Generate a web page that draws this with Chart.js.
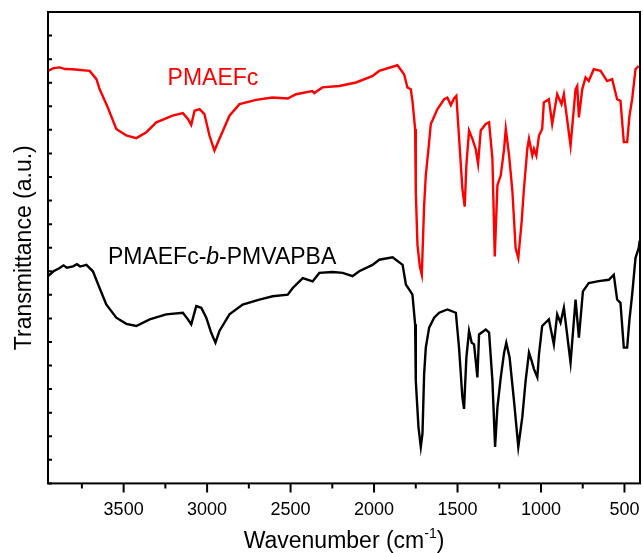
<!DOCTYPE html>
<html>
<head>
<meta charset="utf-8">
<script src="https://cdn.jsdelivr.net/npm/chart.js@4/dist/chart.umd.min.js"></script>
<style>
  html, body { margin: 0; padding: 0; background: #fff; }
  #wrap { width: 643px; height: 553px; }
</style>
</head>
<body>
<div id="wrap"><canvas id="c" width="643" height="553"></canvas></div>
<script>
// ---- Data ----
const redWavenumber = [3953,3920,3883,3850,3805,3760,3703,3663,3644,3596,3544,3484,3424,3364,3304,3207,3145,3115,3095,3075,3045,3016,2986,2956,2926,2866,2806,2706,2609,2517,2467,2370,2358,2310,2208,2108,2011,1969,1860,1820,1800,1780,1770,1754,1750,1740,1726,1714,1700,1690,1674,1660,1620,1580,1561,1540,1521,1507,1491,1471,1457,1447,1431,1411,1391,1377,1361,1331,1311,1291,1277,1261,1241,1221,1211,1191,1171,1152,1136,1116,1102,1082,1072,1052,1042,1028,1012,993,983,953,933,903,877,863,823,793,783,773,753,733,714,684,643,604,574,544,524,504,484,470,454,434,415];
const redTransmittance = [17.50,17.62,17.65,17.58,17.57,17.54,17.50,17.15,16.73,15.97,15.04,14.76,14.65,14.90,15.32,15.60,15.71,15.46,15.21,15.81,15.88,15.67,14.76,14.12,14.62,15.60,16.09,16.27,16.37,16.33,16.51,16.65,16.56,16.80,16.86,17.01,17.28,17.50,17.74,17.36,16.80,16.72,16.23,15.04,12.38,10.12,9.21,8.85,11.80,13.07,14.19,15.25,15.88,16.30,16.37,16.05,16.33,16.44,14.69,12.51,11.74,13.49,14.97,14.62,14.19,13.56,14.97,15.25,15.32,13.77,9.63,12.65,13.07,14.19,15.04,13.91,12.37,9.98,9.56,11.10,12.51,14.19,14.62,13.91,14.19,13.91,14.76,15.04,16.16,16.30,15.25,16.51,16.09,16.51,14.33,16.72,16.86,15.53,16.72,17.22,17.07,17.57,17.50,17.07,17.15,16.30,16.23,14.48,14.48,15.60,16.30,17.57,17.71];

const blackWavenumber = [3953,3920,3883,3860,3840,3803,3780,3760,3723,3684,3644,3604,3544,3484,3424,3344,3245,3145,3115,3095,3065,3035,3005,2976,2950,2926,2866,2787,2687,2607,2517,2487,2427,2368,2328,2248,2188,2129,2089,2009,1969,1889,1829,1809,1789,1770,1754,1750,1734,1720,1710,1700,1690,1670,1640,1610,1561,1510,1491,1471,1461,1447,1431,1415,1401,1381,1371,1331,1311,1291,1275,1261,1241,1221,1208,1188,1162,1136,1112,1092,1072,1056,1042,1022,1012,993,953,923,903,883,863,823,793,773,749,714,654,594,564,544,524,504,484,470,454,434,415,409];
const blackTransmittance = [8.79,9.00,9.14,9.25,9.15,9.21,9.30,9.20,9.27,9.00,8.29,7.59,7.03,6.77,6.68,6.96,7.17,7.24,6.96,6.75,7.52,7.45,7.03,6.40,5.97,6.47,7.17,7.59,7.80,7.94,8.01,8.29,8.71,8.57,8.93,8.97,8.93,8.79,9.00,9.27,9.49,9.59,9.27,8.43,8.22,8.01,6.75,4.36,2.39,1.55,2.11,4.64,5.76,6.61,7.03,7.24,7.38,7.24,5.76,3.66,3.16,5.34,6.47,5.97,5.90,4.50,6.32,6.53,6.40,4.36,1.55,3.23,4.50,5.55,5.97,5.34,3.52,1.55,2.81,4.36,5.55,5.20,4.85,4.50,5.48,6.68,6.96,5.90,7.17,6.82,7.45,5.13,7.80,6.18,8.15,8.50,8.58,8.64,8.85,7.80,7.66,5.76,5.76,6.96,8.01,9.56,9.98,10.3];

const seriesNames = ['PMAEFc', 'PMAEFc-b-PMVAPBA'];
const xMajorTicks = [3500, 3000, 2500, 2000, 1500, 1000, 500];
const xMinorTicks = [3750, 3250, 2750, 2250, 1750, 1250, 750];
const yTicks = [0,1,2,3,4,5,6,7,8,9,10,11,12,13,14,15,16,17,18,19,20];
const xRange = [407, 3953];
const yRange = [0, 20];
// label anchor positions in data units
const redLabelAt = [3237, 16.89];
const blackLabelAt = [3594, 9.30];

const FONT = '"Liberation Sans", Arial, Helvetica, sans-serif';

const toPts = (xs, ys) => xs.map((v, i) => ({ x: v, y: ys[i] }));

const decor = {
  id: 'decor',
  afterDraw(chart) {
    const { ctx, chartArea: a, scales: { x, y } } = chart;
    ctx.save();
    ctx.strokeStyle = '#000';
    ctx.lineWidth = 2;
    ctx.strokeRect(a.left, a.top, a.right - a.left, a.bottom - a.top);
    // x ticks, outward
    ctx.beginPath();
    xMajorTicks.forEach(v => {
      const px = x.getPixelForValue(v);
      ctx.moveTo(px, a.bottom); ctx.lineTo(px, a.bottom + 9);
    });
    xMinorTicks.forEach(v => {
      const px = x.getPixelForValue(v);
      ctx.moveTo(px, a.bottom); ctx.lineTo(px, a.bottom + 5);
    });
    // y ticks, inward
    yTicks.forEach(v => {
      const py = y.getPixelForValue(v);
      ctx.moveTo(a.left, py); ctx.lineTo(a.left + 4, py);
    });
    ctx.stroke();

    // y title
    ctx.fillStyle = '#000';
    ctx.save();
    ctx.translate(31, (a.top + a.bottom) / 2);
    ctx.rotate(-Math.PI / 2);
    ctx.font = '23px ' + FONT;
    ctx.textAlign = 'center';
    ctx.textBaseline = 'alphabetic';
    ctx.fillText('Transmittance (a.u.)', 0, 0);
    ctx.restore();

    // x title with superscript
    const main = 'Wavenumber (cm', sup = '-1', tail = ')';
    ctx.textBaseline = 'alphabetic';
    ctx.textAlign = 'left';
    ctx.font = '23px ' + FONT;
    const w1 = ctx.measureText(main).width, w3 = ctx.measureText(tail).width;
    ctx.font = '14px ' + FONT;
    const w2 = ctx.measureText(sup).width;
    const cx = (a.left + a.right) / 2;
    let sx = cx - (w1 + w2 + w3) / 2;
    const by = 548;
    ctx.font = '23px ' + FONT;
    ctx.fillText(main, sx, by);
    ctx.font = '14px ' + FONT;
    ctx.fillText(sup, sx + w1, by - 10);
    ctx.font = '23px ' + FONT;
    ctx.fillText(tail, sx + w1 + w2, by);

    // series labels
    ctx.fillStyle = '#ff0000';
    ctx.fillText(seriesNames[0], x.getPixelForValue(redLabelAt[0]), y.getPixelForValue(redLabelAt[1]));
    ctx.fillStyle = '#000';
    let lx = x.getPixelForValue(blackLabelAt[0]);
    const ly = y.getPixelForValue(blackLabelAt[1]);
    const parts = seriesNames[1].split('-'); // PMAEFc, b, PMVAPBA
    const segs = [[parts[0] + '-', false], [parts[1], true], ['-' + parts[2], false]];
    segs.forEach(([t, it]) => {
      ctx.font = (it ? 'italic ' : '') + '23px ' + FONT;
      ctx.fillText(t, lx, ly);
      lx += ctx.measureText(t).width;
    });
    ctx.restore();
  }
};

new Chart(document.getElementById('c'), {
  type: 'line',
  data: {
    datasets: [
      { label: seriesNames[0], data: toPts(redWavenumber, redTransmittance), borderColor: '#ff0000', borderWidth: 2.4, pointRadius: 0, tension: 0, fill: false },
      { label: seriesNames[1], data: toPts(blackWavenumber, blackTransmittance), borderColor: '#000000', borderWidth: 2.4, pointRadius: 0, tension: 0, fill: false }
    ]
  },
  options: {
    responsive: false,
    animation: false,
    devicePixelRatio: 1,
    layout: { padding: { left: 48, top: 12, right: 3, bottom: 16 } },
    plugins: { legend: { display: false }, tooltip: { enabled: false } },
    scales: {
      x: {
        type: 'linear', reverse: true, min: xRange[0], max: xRange[1],
        grid: { display: false, drawTicks: false },
        border: { display: false },
        afterBuildTicks: s => { s.ticks = xMajorTicks.map(v => ({ value: v })); },
        afterFit: s => { s.paddingLeft = 0; s.paddingRight = 0; },
        ticks: { autoSkip: false, maxRotation: 0, padding: 16, color: '#000', font: { family: FONT, size: 18 },
                 callback: v => String(v) }
      },
      y: {
        display: false, min: yRange[0], max: yRange[1]
      }
    }
  },
  plugins: [decor]
});
</script>
</body>
</html>
